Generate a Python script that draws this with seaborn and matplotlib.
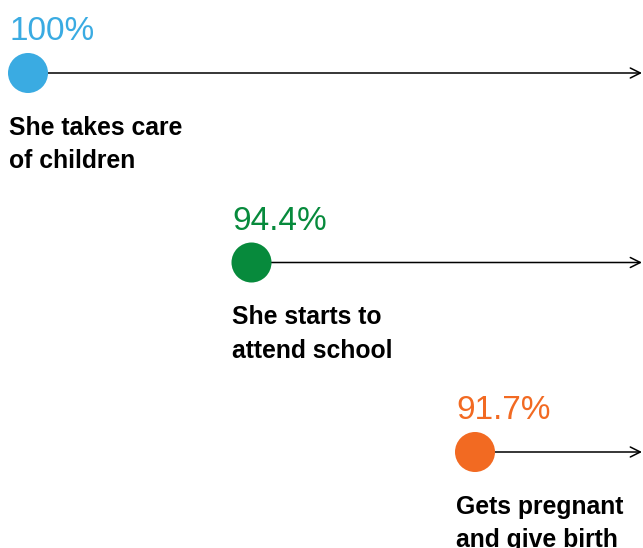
import matplotlib.pyplot as plt
import seaborn as sns
import numpy as np
import pandas as pd

# dati
steps = ["She takes care\nof children", "She starts to\nattend school", "Gets pregnant\nand give birth"]
percent = [100, 94.4, 91.7]
pct_labels = ["100%", "94.4%", "91.7%"]
colori = ["#3AABE2", "#078A3C", "#F26A22"]

df = pd.DataFrame({"step": steps, "pct": percent, "lab": pct_labels})
df["pos"] = np.arange(len(df))

sns.set_theme(style="white")
plt.rcParams["font.family"] = ["Liberation Sans", "DejaVu Sans"]

fig = plt.figure(figsize=(6.43, 5.48), dpi=100)
ax = fig.add_axes([0, 0, 1, 1])
ax.set_xlim(0, 643)
ax.set_ylim(548, 0)
ax.axis("off")

# griglia a scaletta (pixel)
df["x"] = 28 + df["pos"] * 223.5
df["y"] = 73 + df["pos"] * 189.5

for i, r in df.iterrows():
    ax.annotate("", xy=(642, r["y"]), xytext=(r["x"], r["y"]),
                arrowprops=dict(arrowstyle="->,head_length=0.6,head_width=0.3",
                                color="black", lw=1.1, shrinkA=0, shrinkB=0),
                zorder=1)

sns.scatterplot(data=df, x="x", y="y", hue="step", palette=colori, s=830,
                linewidth=0, legend=False, ax=ax, zorder=3)

for i, r in df.iterrows():
    ax.text(r["x"] - 19, r["y"] - 33, r["lab"], color=colori[i], fontsize=24,
            fontweight="normal", va="baseline")
    ax.text(r["x"] - 19, r["y"] + 62, r["step"].split("\n")[0], color="black",
            fontsize=17.8, fontweight="bold", va="baseline")
    ax.text(r["x"] - 19, r["y"] + 95, r["step"].split("\n")[1], color="black",
            fontsize=17.8, fontweight="bold", va="baseline")

fig.savefig("out.png", dpi=100)
